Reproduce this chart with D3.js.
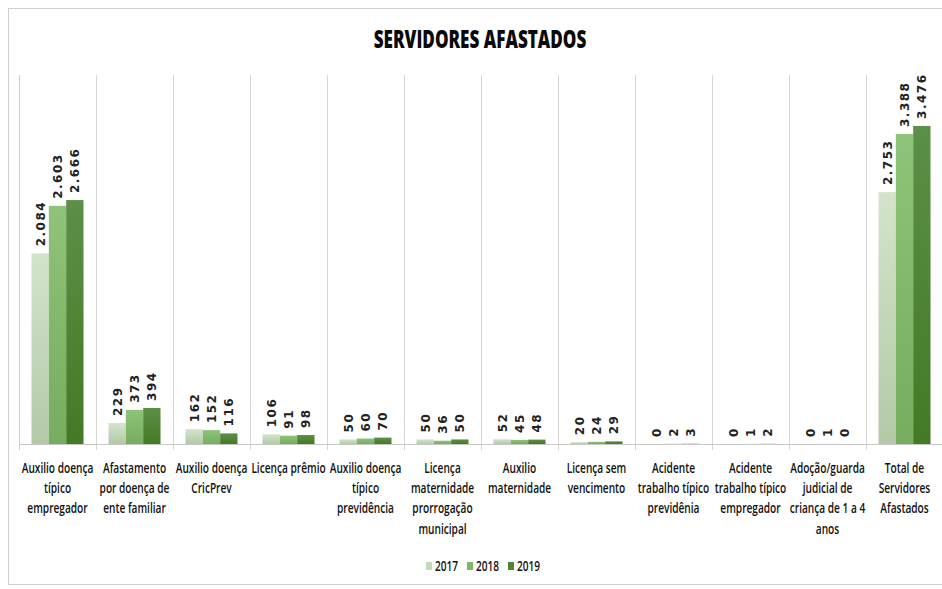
<!DOCTYPE html>
<html><head><meta charset="utf-8">
<script src="https://cdn.jsdelivr.net/npm/d3@7"></script>
<style>
html,body{margin:0;padding:0;background:#fff;}
svg{display:block;}
</style></head>
<body>
<svg id="chart" width="942" height="589"></svg>
<script>
const categories = [
  ["Auxilio doença","típico","empregador"],
  ["Afastamento","por doença de","ente familiar"],
  ["Auxilio doença","CricPrev"],
  ["Licença prêmio"],
  ["Auxilio doença","típico","previdência"],
  ["Licença","maternidade","prorrogação","municipal"],
  ["Auxilio","maternidade"],
  ["Licença sem","vencimento"],
  ["Acidente","trabalho típico","previdênia"],
  ["Acidente","trabalho típico","empregador"],
  ["Adoção/guarda","judicial de","criança de 1 a 4","anos"],
  ["Total de","Servidores","Afastados"]
];
const years = ["2017","2018","2019"];
const values2017 = [2084,229,162,106,50,50,52,20,0,0,0,2753];
const values2018 = [2603,373,152,91,60,36,45,24,2,1,1,3388];
const values2019 = [2666,394,116,98,70,50,48,29,3,2,0,3476];
const title = "SERVIDORES AFASTADOS";

const series = [values2017, values2018, values2019];
const colorsTop = ["#d3e4cb","#8fc379","#5c8f47"];
const colorsBottom = ["#b3c9a8","#76ad5f","#447a24"];
const legendColors = ["#c4dbba","#7db867","#4e8734"];
const FONT = "'Open Sans',sans-serif";

const svg = d3.select("#chart");
const defs = svg.append("defs");
years.forEach((yv,i)=>{
  const g = defs.append("linearGradient").attr("id","g"+i)
    .attr("x1",0).attr("y1",0).attr("x2",0).attr("y2",1);
  g.append("stop").attr("offset","0%").attr("stop-color",colorsTop[i]);
  g.append("stop").attr("offset","100%").attr("stop-color",colorsBottom[i]);
});

// outer border
svg.append("rect").attr("x",8.5).attr("y",8.5).attr("width",945).attr("height",576)
  .attr("fill","none").attr("stroke","#d0d0d0");

const pLeft = 19, pRight = 943, pTop = 78, pBase = 444;
const x0 = d3.scaleBand().domain(d3.range(categories.length)).range([pLeft,pRight]).paddingInner(0).paddingOuter(0);
const x1 = d3.scaleBand().domain(d3.range(years.length)).range([0,x0.bandwidth()]).paddingOuter(0.72).paddingInner(0);
const y = d3.scaleLinear().domain([0,4000]).range([pBase,pTop]);

const fmt = d3.formatLocale({decimal:",",thousands:".",grouping:[3],currency:["",""]}).format(",d");

// title (horizontally condensed)
const tg = svg.append("g").attr("transform","translate(480,48) scale(0.685,1)");
tg.append("text").attr("x",0).attr("y",0).attr("text-anchor","middle")
  .attr("font-family",FONT).attr("font-weight","800").attr("font-size",25)
  .attr("fill","#0a0a0a").text(title);

// separators
const sep = svg.append("g");
d3.range(categories.length).forEach(i=>{
  const xx = pLeft + i*x0.bandwidth();
  sep.append("line").attr("x1",xx+0.5).attr("x2",xx+0.5).attr("y1",pTop-3).attr("y2",pBase+6)
    .attr("stroke",i===0?"#cfcfcf":"#d6d6d6");
});
svg.append("line").attr("x1",pLeft).attr("x2",pRight).attr("y1",pBase+0.5).attr("y2",pBase+0.5)
  .attr("stroke","#c8c8c8");

// bars
const groups = svg.append("g").selectAll("g").data(categories).join("g")
  .attr("transform",(d,i)=>`translate(${x0(i)},0)`);
groups.each(function(d,ci){
  const g = d3.select(this);
  series.forEach((s,si)=>{
    const v = s[ci];
    g.append("rect").attr("x",x1(si)).attr("width",x1.bandwidth())
      .attr("y",y(v)).attr("height",Math.max(0,pBase-y(v)))
      .attr("fill",`url(#g${si})`);
    const lx = x1(si)+x1.bandwidth()/2+4.5;
    const ly = y(v)-7;
    g.append("text").attr("transform",`translate(${lx},${ly}) rotate(-90)`)
      .attr("font-family","'DejaVu Sans',sans-serif").attr("font-weight","bold")
      .attr("font-size",12).attr("letter-spacing","1.5").attr("fill","#222")
      .text(fmt(v));
  });
  const lg = g.append("g").attr("transform",`translate(${x0.bandwidth()/2},0) scale(0.75,1)`);
  const t = lg.append("text").attr("text-anchor","middle")
    .attr("font-family",FONT).attr("font-weight","600").attr("font-size",13.5).attr("fill","#111");
  d.forEach((line,li)=>{
    t.append("tspan").attr("x",0).attr("y",473+li*20.2).text(line);
  });
});

// legend
const leg = svg.append("g");
const legX = [426,467,508];
years.forEach((yr,i)=>{
  leg.append("rect").attr("x",legX[i]).attr("y",562).attr("width",6).attr("height",8).attr("fill",legendColors[i]);
  leg.append("g").attr("transform",`translate(${legX[i]+9},571) scale(0.72,1)`)
    .append("text").attr("x",0).attr("y",0)
    .attr("font-family",FONT).attr("font-weight","600").attr("font-size",14).attr("fill","#111").text(yr);
});
</script>
</body></html>
